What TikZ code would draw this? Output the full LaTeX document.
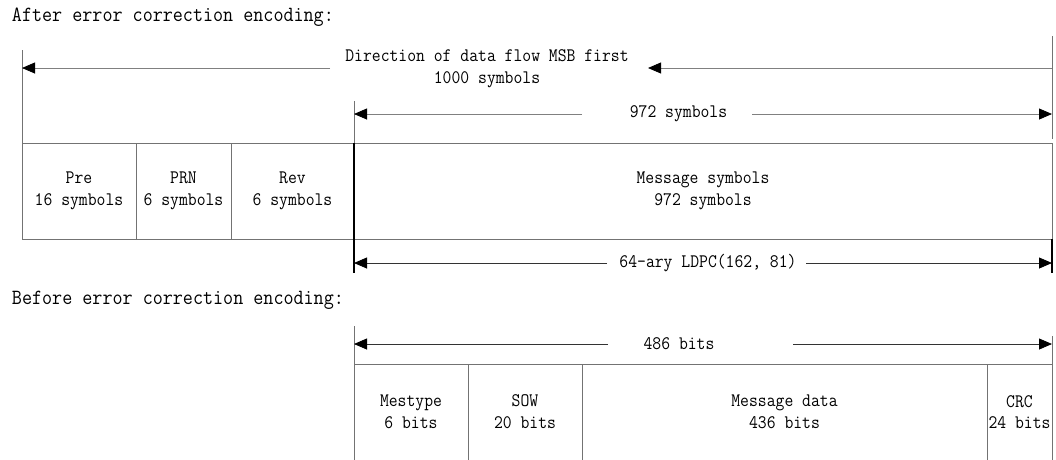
\documentclass[tikz,border=0pt]{standalone}
\usepackage{fontspec}
\usetikzlibrary{arrows.meta,positioning}
\newfontfamily\diagfont{Latin Modern Mono}[FakeStretch=0.9]
\newcommand{\headfont}{\diagfont\fontsize{21.7}{25}\selectfont}
\newcommand{\cellfont}{\diagfont\fontsize{19.1}{21.8}\selectfont}

\begin{document}
\begin{tikzpicture}[x=1pt, y=-1pt, >={Triangle[length=13pt,width=11pt,color=black]},
        every node/.style={inner sep=0pt, outer sep=0pt},
        cell/.style={draw=black!55, line width=0.8pt, font=\cellfont, align=center, minimum height=96pt},
        label/.style={font=\cellfont, align=center},
        dim/.style={draw=black!50, line width=0.8pt, ->},
        dimdark/.style={draw=black!80, line width=0.8pt, ->},
        bar/.style={draw=black!55, line width=0.8pt},
        tick/.style={draw=black, line width=1.1pt}]
    \useasboundingbox (0,0) rectangle (1056,459);

    \node[font=\headfont, anchor=west] (after) at (12,17) {After error correction encoding:};

    \node[cell, minimum width=114pt] (pre) at (79,191) {Pre\\16 symbols};
    \node[cell, minimum width=95pt, right=0pt of pre] (prn) {PRN\\6 symbols};
    \node[cell, minimum width=123pt, right=0pt of prn] (rev) {Rev\\6 symbols};
    \node[cell, minimum width=698pt, right=0pt of rev] (msg) {Message symbols\\972 symbols};

    % 1000 symbols
    \coordinate (l1) at (22,50);
    \coordinate (r1) at (1052,36);
    \coordinate (r2) at (1052,139);
    \coordinate (d1) at (330,68);
    \coordinate (d2) at (1052,68);
    \coordinate (d3) at (648,68);
    \node[label] (dir) at (487,68.5) {Direction of data flow MSB first\\1000 symbols};
    \draw[bar] (l1) -- (pre.north west);
    \draw[bar] (r1) -- (r2);
    \draw[dim] (d1) -- (d1 -| l1);
    \draw[dim] (d2) -- (d3);

    % 972 symbols
    \coordinate (v1) at (354,101);
    \coordinate (v2) at (354,273);
    \coordinate (s1) at (582,114);
    \coordinate (s2) at (752,114);
    \node[label] (sym) at (678.5,114) {972 symbols};
    \draw[bar] (v1) -- (msg.north west);
    \draw[tick] (msg.north west) -- (v2);
    \draw[dim] (s1) -- (s1 -| v1);
    \draw[dim] (s2) -- (s2 -| msg.east);

    % LDPC
    \coordinate (p1) at (607,263);
    \coordinate (p2) at (806,263);
    \coordinate (v3) at (1052,273);
    \node[label] (ldpc) at (708,263) {64-ary LDPC(162, 81)};
    \draw[tick] (msg.south east) -- (v3);
    \draw[dimdark] (p1) -- (p1 -| v1);
    \draw[dimdark] (p2) -- (p2 -| v3);

    \node[font=\headfont, anchor=west] (before) at (12,300) {Before error correction encoding:};

    \node[cell, minimum width=114pt] (mes) at (411,412) {Mestype\\6 bits};
    \node[cell, minimum width=114pt, right=0pt of mes] (sow) {SOW\\20 bits};
    \node[cell, minimum width=405pt, right=0pt of sow] (data) {Message data\\436 bits};
    \node[cell, minimum width=65pt, right=0pt of data] (crc) {CRC\\24 bits};

    % 486 bits
    \coordinate (b1) at (354,326);
    \coordinate (b2) at (1052,336);
    \coordinate (q1) at (608,344);
    \coordinate (q2) at (793,344);
    \node[label] (bits) at (679,344) {486 bits};
    \draw[bar] (b1) -- (mes.north west);
    \draw[bar] (b2) -- (crc.north east);
    \draw[dimdark] (q1) -- (q1 -| b1);
    \draw[dimdark] (q2) -- (q2 -| b2);
\end{tikzpicture}
\end{document}
